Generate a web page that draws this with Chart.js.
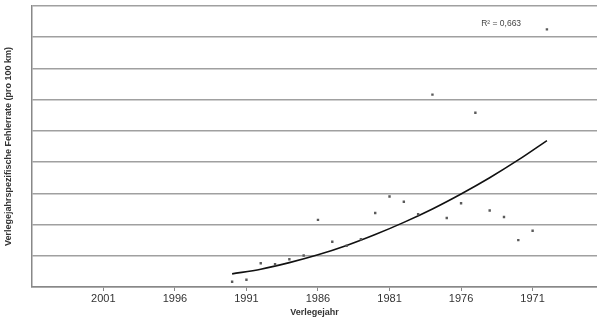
<!DOCTYPE html>
<html>
<head>
<meta charset="utf-8">
<script src="https://cdn.jsdelivr.net/npm/chart.js@4"></script>
<style>
  body { margin: 0; background: #fff; overflow: hidden; }
  #box { width: 601px; height: 320px; }
</style>
</head>
<body>
<div id="box"><canvas id="grafico"></canvas></div>
<script>
// Verlegejahr / Fehlerrate
const jahre = [1992, 1991, 1990, 1989, 1988, 1987, 1986, 1985, 1984, 1983, 1982, 1981, 1980, 1979, 1978, 1977, 1976, 1975, 1974, 1973, 1972, 1971, 1970];
const fehlerrate = [0.17, 0.23, 0.76, 0.73, 0.89, 1.01, 2.15, 1.45, 1.32, 1.53, 2.37, 2.9, 2.73, 2.33, 6.16, 2.21, 2.68, 5.58, 2.45, 2.24, 1.5, 1.8, 8.25];

// trend line, read at some years
const trendJahre = [1992, 1990, 1988, 1986, 1984, 1982, 1980, 1978, 1976, 1974, 1972, 1970];
const trendWerte = [0.42, 0.57, 0.78, 1.03, 1.33, 1.68, 2.07, 2.5, 2.98, 3.5, 4.07, 4.69];

const xTicks = [2001, 1996, 1991, 1986, 1981, 1976, 1971];
const r2Text = "R² = 0,663";

const punkte = jahre.map((j, i) => ({ x: j, y: fehlerrate[i] }));
const trend = trendJahre.map((j, i) => ({ x: j, y: trendWerte[i] }));

// R² label next to the trend line
const r2Plugin = {
  id: "r2",
  afterDatasetsDraw(chart) {
    const ctx = chart.ctx;
    const x = chart.scales.x.getPixelForValue(1973.2);
    const y = chart.scales.y.getPixelForValue(8.45);
    ctx.save();
    ctx.font = "8.5px 'Liberation Sans', Arial, sans-serif";
    ctx.fillStyle = "#444";
    ctx.textAlign = "center";
    ctx.textBaseline = "middle";
    ctx.fillText(r2Text, x, y);
    ctx.restore();
  }
};

const grafico = document.getElementById("grafico");

new Chart(grafico, {
  type: "scatter",
  data: {
    datasets: [
      {
        label: "Fehlerrate",
        data: punkte,
        pointStyle: "rect",
        pointRadius: 1.7,
        backgroundColor: "#5a5a5a",
        borderColor: "#5a5a5a",
        borderWidth: 0,
      },
      {
        label: "Trend",
        data: trend,
        showLine: true,
        pointRadius: 0,
        borderColor: "#111",
        borderWidth: 1.6,
        cubicInterpolationMode: "monotone",
        fill: false,
      },
    ],
  },
  options: {
    responsive: true,
    maintainAspectRatio: false,
    animation: false,
    layout: {
      padding: { left: 3, right: 0, top: 6, bottom: 2 },
    },
    scales: {
      x: {
        type: "linear",
        reverse: true,
        min: 1966.5,
        max: 2006,
        afterBuildTicks: (axis) => {
          axis.ticks = xTicks.map((v) => ({ value: v }));
        },
        ticks: {
          color: "#333",
          padding: 1,
          maxRotation: 0,
          font: { size: 11, family: "'Liberation Sans', Arial, sans-serif" },
          callback: (v) => String(v),
        },
        grid: {
          drawOnChartArea: false,
          drawTicks: true,
          tickLength: 4,
          color: "#888",
        },
        border: { color: "#888", width: 1.5 },
        title: {
          display: true,
          text: "Verlegejahr",
          color: "#333",
          font: { weight: "bold", size: 9, family: "'Liberation Sans', Arial, sans-serif" },
          padding: { top: 1, bottom: 0 },
        },
      },
      y: {
        min: 0,
        max: 9,
        ticks: { display: false, stepSize: 1 },
        grid: {
          color: "#a0a0a0",
          lineWidth: 1.5,
          drawTicks: false,
        },
        border: { color: "#888", width: 1.5 },
        title: {
          display: true,
          text: "Verlegejahrspezifische Fehlerrate (pro 100 km)",
          color: "#333",
          font: { weight: "bold", size: 9, family: "'Liberation Sans', Arial, sans-serif" },
          padding: { top: 0, bottom: 18 },
        },
      },
    },
    plugins: {
      legend: { display: false },
      tooltip: { enabled: false },
    },
  },
  plugins: [r2Plugin],
});
</script>
</body>
</html>
